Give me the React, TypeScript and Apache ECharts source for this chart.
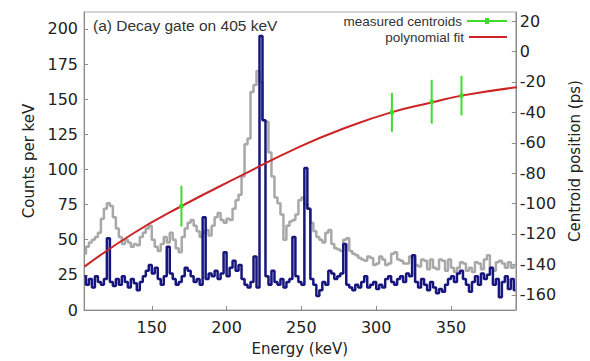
import React, { useEffect, useRef } from "react";
import * as echarts from "echarts";

// 2 keV histogram bins, centres starting at 105 keV
const energyStart = 105;
const binWidth = 2;

const grayCounts = [
  40, 45, 48, 50, 52, 55, 65, 72, 76, 74,
  66, 58, 52, 47, 50, 48, 45, 47, 46, 52,
  55, 58, 60, 50, 45, 42, 47, 52, 48, 55,
  50, 44, 41, 52, 58, 62, 64, 60, 56, 52,
  55, 57, 53, 60, 66, 69, 64, 62, 65, 64,
  72, 78, 82, 95, 118, 122, 155, 160, 170, 162,
  135, 134, 112, 95, 80, 76, 68, 50, 60, 63,
  64, 68, 78, 80, 75, 72, 62, 56, 52, 50,
  48, 55, 57, 47, 44, 43, 42, 50, 51, 42,
  40, 39, 37, 36, 35, 38, 37, 32, 33, 38,
  36, 32, 33, 40, 41, 36, 35, 33, 33, 38,
  37, 32, 31, 36, 35, 29, 36, 30, 29, 36,
  35, 28, 36, 30, 27, 30, 34, 33, 28, 30,
  27, 34, 33, 29, 36, 39, 30, 28, 34, 35,
  33, 30, 34, 30, 32,
];

const blueCounts = [
  24, 18, 22, 16, 24, 20, 18, 22, 51, 20,
  17, 22, 18, 24, 20, 16, 22, 19, 14, 20,
  24, 28, 32, 26, 30, 22, 18, 24, 45, 26,
  22, 18, 20, 24, 30, 28, 24, 20, 22, 18,
  66, 22, 26, 24, 28, 22, 26, 41, 24, 30,
  35, 28, 32, 22, 18, 16, 20, 38, 16, 195,
  135, 24, 18, 28, 20, 18, 22, 16, 20, 22,
  52, 24, 20, 18, 101, 72, 22, 18, 10, 14,
  20, 18, 28, 26, 22, 24, 26, 47, 18, 16,
  14, 18, 16, 20, 24, 16, 18, 20, 15, 18,
  16, 22, 24, 20, 18, 22, 24, 20, 26, 24,
  39, 20, 16, 22, 18, 14, 20, 16, 12, 15,
  13, 18, 22, 24, 20, 26, 28, 22, 18, 13,
  20, 24, 18, 26, 22, 25, 30, 18, 22, 9,
  20, 24, 15, 22, 14,
];

// polynomial fit (keV, ps)
const fitEnergy = [105, 137, 170, 209, 249, 280, 310, 337, 357, 394];
const fitPs = [-141.5, -120, -101.6, -82, -62.5, -50, -40, -33.5, -29, -23.5];

// measured centroids (keV, ps, error ps)
const centroidEnergy = [169.8, 310.5, 337.1, 357];
const centroidPs = [-101.7, -40, -33, -29];
const centroidErr = [13.4, 12.8, 14.4, 13];

const xTicks = [150, 200, 250, 300, 350];
const countTicks = [0, 25, 50, 75, 100, 125, 150, 175, 200];
const psTicks = [-160, -140, -120, -100, -80, -60, -40, -20, 0, 20];

const GREEN = "#3ddc2a";
const RED = "#cc2424";
const GRAY = "#a8a8a8";
const BLUE = "#16167e";
const AXIS = "#8a8a8a";

export default function App() {
  const ref = useRef<HTMLDivElement>(null);

  useEffect(() => {
    if (!ref.current) return;
    const chart = echarts.init(ref.current, undefined, { renderer: "svg" });

    const grayData = grayCounts.map((c, i) => [energyStart + i * binWidth, c]);
    const blueData = blueCounts.map((c, i) => [energyStart + i * binWidth, c]);
    const fitData = fitEnergy.map((e, i) => [e, fitPs[i]]);
    const centroidData = centroidEnergy.map((e, i) => [e, centroidPs[i], centroidErr[i]]);

    const tickFont = { fontFamily: "DejaVu Sans", fontSize: 16, color: "#222" };
    const nameFont = { fontFamily: "DejaVu Sans", fontSize: 15, color: "#222" };
    const legendFont = { fontFamily: "Liberation Sans", fontSize: 13.5, lineHeight: 14, color: "#333" };

    chart.setOption({
      animation: false,
      backgroundColor: "#fff",
      grid: {
        left: 84,
        right: 71,
        top: 12,
        bottom: 42,
        show: true,
        borderColor: "#aaa",
        borderWidth: 1,
      },
      title: {
        text: "(a) Decay gate on 405 keV",
        left: 93,
        top: 17,
        padding: 0,
        textStyle: {
          fontFamily: "Liberation Sans",
          fontSize: 15.5,
          fontWeight: "normal",
          color: "#333",
        },
      },
      legend: [
        {
          data: [
            {
              name: "measured centroids",
              icon: "path://M0,3 L40,3 L40,5 L0,5 Z M18,1 L22,1 L22,7 L18,7 Z",
            },
          ],
          right: 83,
          top: 14,
          padding: 0,
          align: "right",
          itemWidth: 40,
          itemHeight: 6,
          selectedMode: false,
          textStyle: legendFont,
        },
        {
          data: [{ name: "polynomial fit", icon: "path://M0,0 L40,0 L40,2 L0,2 Z" }],
          right: 83,
          top: 30,
          padding: 0,
          align: "right",
          itemWidth: 38,
          itemHeight: 2,
          selectedMode: false,
          textStyle: legendFont,
        },
      ],
      xAxis: {
        type: "value",
        min: 104.7,
        max: 393.3,
        name: "Energy (keV)",
        nameLocation: "middle",
        nameGap: 31,
        nameTextStyle: nameFont,
        axisLine: { show: true, lineStyle: { color: AXIS } },
        axisTick: { show: true, inside: true, length: 4, customValues: xTicks, lineStyle: { color: AXIS } },
        axisLabel: { customValues: xTicks, margin: 9, ...tickFont },
        splitLine: { show: false },
      },
      yAxis: [
        {
          type: "value",
          min: 0,
          max: 212,
          position: "left",
          name: "Counts per keV",
          nameLocation: "middle",
          nameGap: 41,
          nameRotate: 90,
          nameTextStyle: nameFont,
          axisLine: { show: true, lineStyle: { color: AXIS } },
          axisTick: { show: true, inside: true, length: 4, customValues: countTicks, lineStyle: { color: AXIS } },
          axisLabel: { customValues: countTicks, margin: 6, ...tickFont },
          splitLine: { show: false },
        },
        {
          type: "value",
          min: -170,
          max: 26,
          position: "right",
          name: "Centroid position (ps)",
          nameLocation: "middle",
          nameGap: 46,
          nameRotate: 90,
          nameTextStyle: nameFont,
          axisLine: { show: true, lineStyle: { color: AXIS } },
          axisTick: { show: true, inside: true, length: 4, customValues: psTicks, lineStyle: { color: AXIS } },
          axisLabel: { customValues: psTicks, margin: 4, ...tickFont },
          splitLine: { show: false },
        },
      ],
      series: [
        {
          name: "gated (gray)",
          type: "line",
          step: "middle",
          data: grayData,
          symbol: "none",
          lineStyle: { color: GRAY, width: 2.5 },
          itemStyle: { color: GRAY },
          z: 1,
        },
        {
          name: "gated (blue)",
          type: "line",
          step: "middle",
          data: blueData,
          symbol: "none",
          lineStyle: { color: BLUE, width: 2.5 },
          itemStyle: { color: BLUE },
          z: 2,
        },
        {
          name: "polynomial fit",
          type: "line",
          yAxisIndex: 1,
          smooth: 0.5,
          data: fitData,
          symbol: "none",
          lineStyle: { color: RED, width: 2 },
          itemStyle: { color: RED },
          z: 3,
        },
        {
          name: "measured centroids",
          type: "custom",
          yAxisIndex: 1,
          data: centroidData,
          encode: { x: 0, y: 1 },
          itemStyle: { color: GREEN },
          z: 4,
          renderItem: (params: any, api: any) => {
            const x = api.value(0);
            const y = api.value(1);
            const e = api.value(2);
            const top = api.coord([x, y + e]);
            const bot = api.coord([x, y - e]);
            const c = api.coord([x, y]);
            return {
              type: "group",
              children: [
                {
                  type: "line",
                  shape: { x1: top[0], y1: top[1], x2: bot[0], y2: bot[1] },
                  style: { stroke: GREEN, lineWidth: 2 },
                },
                {
                  type: "rect",
                  shape: { x: c[0] - 2, y: c[1] - 2, width: 4, height: 4 },
                  style: { fill: GREEN },
                },
              ],
            };
          },
        },
      ],
    });

    return () => chart.dispose();
  }, []);

  return (
    <div
      ref={ref}
      style={{ position: "absolute", left: 0, top: 0, width: 590, height: 361 }}
    />
  );
}
